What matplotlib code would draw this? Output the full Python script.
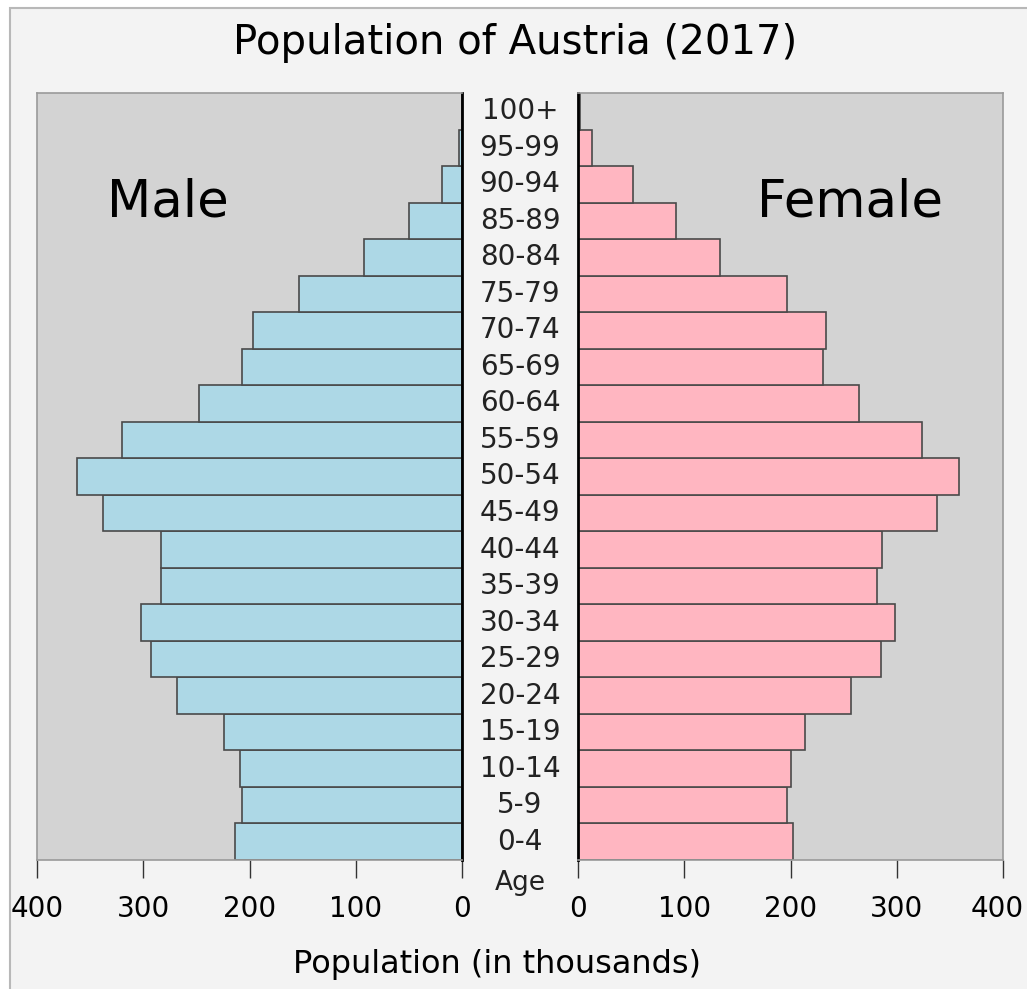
import matplotlib
matplotlib.use("Agg")
import matplotlib.pyplot as plt
from matplotlib.patches import Rectangle
from matplotlib.transforms import blended_transform_factory, ScaledTranslation

ages = ["0-4", "5-9", "10-14", "15-19", "20-24", "25-29", "30-34", "35-39",
        "40-44", "45-49", "50-54", "55-59", "60-64", "65-69", "70-74",
        "75-79", "80-84", "85-89", "90-94", "95-99", "100+"]
male = [214, 207, 209, 224, 268, 293, 302, 283, 283, 338, 362, 320,
        248, 207, 197, 153, 92, 50, 19, 3, 0.3]
female = [202, 197, 200, 214, 257, 285, 298, 281, 286, 338, 359, 324,
          264, 231, 233, 197, 134, 92, 52, 13, 1.5]
xticks = [0, 100, 200, 300, 400]

plt.rcParams['font.family'] = 'DejaVu Sans'
W, H = 1027, 989
fig = plt.figure(figsize=(W / 100, H / 100), dpi=100, facecolor="white")

# light panel with a thin frame (top/left only visible)
fig.patches.append(Rectangle((10 / W, -0.05), 1.1, 1 - 8 / H + 0.05,
                             transform=fig.transFigure, facecolor="#f3f3f3",
                             edgecolor="#b8b8b8", lw=1.5, zorder=-10))

bottom = 1 - 860 / H
height = 767 / H
axL = fig.add_axes([37 / W, bottom, 425 / W, height])
axR = fig.add_axes([578 / W, bottom, 425 / W, height])

y = range(len(ages))
axL.barh(y, male, height=1.0, color="#add8e6", edgecolor="#4a4a4a", lw=1.2)
axR.barh(y, female, height=1.0, color="#ffb6c1", edgecolor="#4a4a4a", lw=1.2)

for ax in (axL, axR):
    ax.set_facecolor("#d3d3d3")
    ax.set_xlim(0, 400)
    ax.set_ylim(-0.5, len(ages) - 0.5)
    ax.set_yticks([])
    ax.set_xticks(xticks)
    ax.set_xticklabels([str(t) for t in xticks], fontsize=20)
    ax.tick_params(axis="x", direction="out", length=13, width=1,
                   color="#333333", pad=12)
    for s in ax.spines.values():
        s.set_color("#9a9a9a")
        s.set_linewidth(1.2)
axL.invert_xaxis()
axL.spines["right"].set_color("black")
axL.spines["right"].set_linewidth(2)
axR.spines["left"].set_color("black")
axR.spines["left"].set_linewidth(2)

# keep the outer "400" inside the picture
last = axR.get_xticklabels()[-1]
last.set_transform(last.get_transform() + ScaledTranslation(-6 / 100, 0, fig.dpi_scale_trans))

# age group labels between the two halves
tr = blended_transform_factory(fig.transFigure, axL.transData)
for i, a in enumerate(ages):
    axL.text(520 / W, i, a, transform=tr, ha="center", va="center",
             fontsize=20, color="#222222", clip_on=False)
axL.text(520 / W, -1.12, "Age", transform=tr, ha="center", va="center",
         fontsize=19, color="#222222", clip_on=False)

axL.text(277, 17.5, "Male", ha="center", va="center", fontsize=37)
axR.text(256, 17.5, "Female", ha="center", va="center", fontsize=37)

fig.text(515 / W, 1 - 43 / H, "Population of Austria (2017)",
         ha="center", va="center", fontsize=29)
fig.text(497 / W, 1 - 964 / H, "Population (in thousands)",
         ha="center", va="center", fontsize=23)

fig.savefig("out.png", dpi=100, facecolor=fig.get_facecolor())
